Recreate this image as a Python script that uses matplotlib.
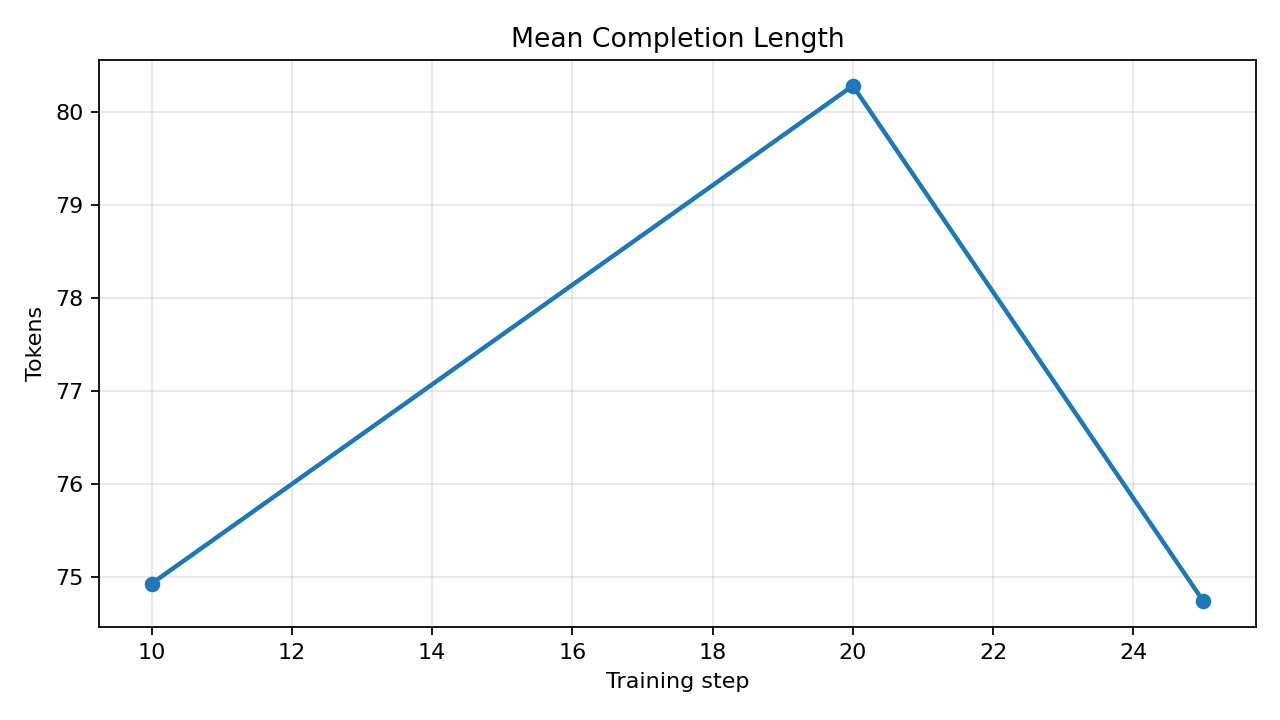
import matplotlib
matplotlib.use("Agg")
import matplotlib.pyplot as plt

steps = [10, 20, 25]
mean_len = [74.93, 80.28, 74.74]

fig = plt.figure(figsize=(8, 4.5), dpi=160)
ax = fig.add_subplot(111)
ax.plot(steps, mean_len, marker="o", linewidth=2, markersize=6, color="#1f77b4")
ax.set_title("Mean Completion Length")
ax.set_xlabel("Training step")
ax.set_ylabel("Tokens")
ax.grid(True, alpha=0.3)
ax.set_xticks(range(10, 25, 2))
fig.subplots_adjust(left=0.0773, right=0.9813, top=0.9167, bottom=0.129)
fig.savefig("out.png", dpi=160)
